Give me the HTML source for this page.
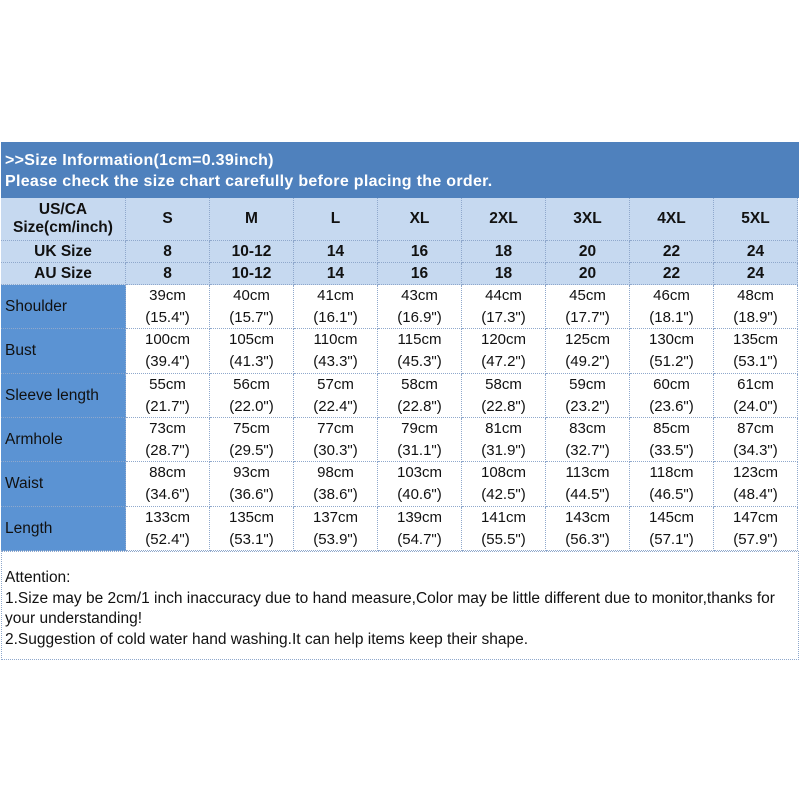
<!DOCTYPE html>
<html><head><style>
body{margin:0;width:800px;height:800px;background:#fff;font-family:"Liberation Sans",Arial,sans-serif;position:relative;overflow:hidden}
.a{position:absolute;box-sizing:border-box;display:flex;align-items:center;justify-content:center;text-align:center;border-right:1px dotted #8fa8cc;border-bottom:1px dotted #8fa8cc}
.h{background:#c6d9f0;font-weight:bold;font-size:15.5px;color:#111}
.l{background:#5b93d3;justify-content:flex-start;padding-left:4px;font-size:15.5px;color:#111}
.c{background:#fff;font-size:15px;line-height:22px;color:#111}
</style></head><body>
<div style="position:absolute;left:1px;top:142px;width:798px;height:56px;background:#4f81bd;color:#fff;font-weight:bold;font-size:16px;letter-spacing:0.3px;line-height:21px;padding:8px 0 0 4px;box-sizing:border-box">&gt;&gt;Size Information(1cm=0.39inch)<br>Please check the size chart carefully before placing the order.</div>
<div id="t"></div>
<div style="position:absolute;left:1px;top:551px;width:798px;height:109px;border:1px dotted #8fa8cc;box-sizing:border-box;padding:16px 3px 0 3px;font-size:15.5px;line-height:20.5px;color:#111">Attention:<br>1.Size may be 2cm/1 inch inaccuracy due to hand measure,Color may be little different due to monitor,thanks for your understanding!<br>2.Suggestion of cold water hand washing.It can help items keep their shape.</div>
<script>
var t=document.getElementById('t'),h='';
var cols=['S','M','L','XL','2XL','3XL','4XL','5XL'];
var uk=['8','10-12','14','16','18','20','22','24'];
function cell(x,y,w,hh,cls,txt){h+='<div class="a '+cls+'" style="left:'+x+'px;top:'+y+'px;width:'+w+'px;height:'+hh+'px">'+txt+'</div>';}
cell(1,198,125,43,'h','US/CA<br>Size(cm/inch)');
cell(1,241,125,22,'h','UK Size');cell(1,263,125,22,'h','AU Size');
for(var i=0;i<8;i++){var x=126+i*84;cell(x,198,84,43,'h',cols[i]);cell(x,241,84,22,'h',uk[i]);cell(x,263,84,22,'h',uk[i]);}
var rows=[['Shoulder',[39,40,41,43,44,45,46,48],['15.4','15.7','16.1','16.9','17.3','17.7','18.1','18.9']],
['Bust',[100,105,110,115,120,125,130,135],['39.4','41.3','43.3','45.3','47.2','49.2','51.2','53.1']],
['Sleeve length',[55,56,57,58,58,59,60,61],['21.7','22.0','22.4','22.8','22.8','23.2','23.6','24.0']],
['Armhole',[73,75,77,79,81,83,85,87],['28.7','29.5','30.3','31.1','31.9','32.7','33.5','34.3']],
['Waist',[88,93,98,103,108,113,118,123],['34.6','36.6','38.6','40.6','42.5','44.5','46.5','48.4']],
['Length',[133,135,137,139,141,143,145,147],['52.4','53.1','53.9','54.7','55.5','56.3','57.1','57.9']]];
for(var r=0;r<6;r++){var y=Math.round(285+r*44.33),y2=Math.round(285+(r+1)*44.33);
cell(1,y,125,y2-y,'l',rows[r][0]);
for(var i=0;i<8;i++)cell(126+i*84,y,84,y2-y,'c',rows[r][1][i]+'cm<br>('+rows[r][2][i]+'")');}
t.innerHTML=h;
</script>
</body></html>
